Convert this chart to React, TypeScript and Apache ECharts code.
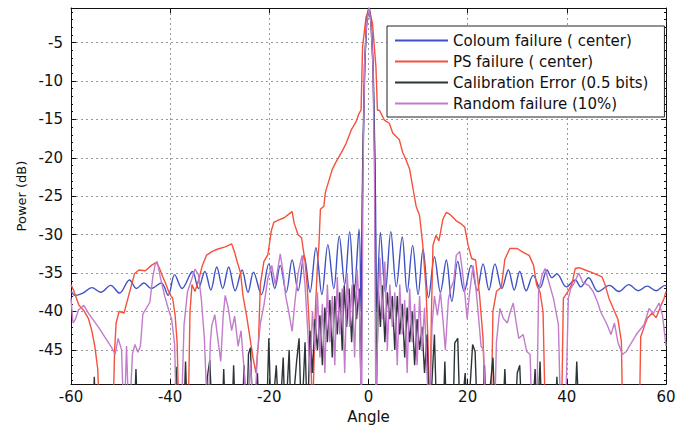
import React, { useEffect, useRef } from "react";
import * as echarts from "echarts";

// Angle (deg) / Power (dB) pairs
const colourFailure: [number, number][] = [
  [-60,-37.3],[-59.2,-37.9],[-57.6,-37.6],[-55.8,-36.9],[-54.0,-37.5],[-52.0,-36.6],[-50.2,-37.6],[-48.2,-35.9],
  [-46.8,-37.0],[-45.3,-36.3],[-43.8,-37.0],[-41.8,-36.3],[-40.4,-37.9],[-39.1,-35.2],[-37.6,-37.0],[-35.5,-34.8],
  [-34.3,-37.0],[-33.0,-34.8],[-31.8,-37.2],[-30.6,-34.2],[-29.4,-37.0],[-28.2,-34.2],[-26.9,-37.3],[-25.5,-34.6],
  [-24.3,-37.5],[-23.2,-34.9],[-21.6,-37.8],[-20.1,-33.8],[-18.9,-37.0],[-17.8,-34.0],[-16.6,-37.5],[-15.4,-33.3],
  [-14.2,-37.3],[-13.0,-32.7],[-11.8,-37.5],[-10.6,-31.7],[-9.4,-37.8],[-8.2,-31.3],[-7.0,-37.0],[-5.9,-30.2],
  [-4.8,-36.5],[-3.8,-29.6],[-2.9,-37.5],[-1.9,-29.3],[-1.5,-40],[-1.2,-24.5],[-0.8,-10],[-0.4,-3],[0.1,-0.5],
  [0.6,-3],[1.0,-10],[1.4,-25],[1.7,-40],[2.4,-29.7],[3.4,-37.5],[4.5,-29.6],[5.6,-36.8],[6.8,-30.3],[7.8,-37.5],
  [8.9,-31.4],[10.0,-37.8],[11.0,-31.9],[12.1,-38.2],[13.3,-32.9],[14.5,-37.5],[15.7,-33.3],[16.8,-38.7],
  [18.0,-33.5],[19.3,-37.4],[20.7,-34.0],[21.9,-37.3],[23.1,-33.8],[24.3,-37.2],[25.5,-33.8],[26.9,-37.0],
  [28.2,-34.6],[29.4,-37.2],[30.5,-34.8],[31.8,-37.3],[33.2,-35.3],[34.6,-36.9],[36.0,-34.6],[37.0,-35.6],
  [38.0,-35.1],[39.9,-36.8],[41.7,-35.9],[42.8,-36.8],[44.4,-35.6],[46.3,-37.4],[48.6,-36.6],[50.5,-37.4],
  [52.5,-36.5],[54.4,-37.3],[56.2,-36.7],[58.0,-37.3],[59.8,-36.6],[60,-36.7]
];

const psFailure: [number, number][] = [
  [-60,-36.5],[-59.5,-37.2],[-58.4,-39.2],[-57.5,-39.8],[-56.5,-40.9],[-55.8,-42.5],[-55.2,-44.5],[-54.6,-47.5],
  [-54.2,-55],[-51.6,-55],[-51.2,-45],[-50.9,-41.5],[-50.3,-40.0],[-49.3,-40.2],[-48.4,-38.0],[-47.9,-36.8],
  [-47.2,-35.1],[-46.3,-34.6],[-45.0,-34.7],[-43.8,-34.0],[-42.8,-33.6],[-42.2,-34.3],[-41.5,-35.5],[-41.0,-36.2],
  [-40.2,-37.6],[-39.5,-38.3],[-39.0,-40.5],[-38.6,-44],[-38.2,-55],[-36.4,-55],[-36.0,-40],[-35.6,-36.5],
  [-35.0,-37.4],[-34.3,-36.0],[-33.5,-34.0],[-32.7,-32.7],[-31.6,-32.2],[-30.5,-31.9],[-28.9,-31.6],[-27.6,-31.2],
  [-27.0,-32.3],[-26.5,-33.5],[-25.8,-35.0],[-25.3,-38.0],[-24.6,-40.5],[-24.0,-43.0],[-23.3,-46.0],[-22.7,-48.0],
  [-22.2,-44],[-21.8,-36.4],[-21.1,-33.5],[-20.3,-32.6],[-19.6,-29.5],[-19.1,-28.4],[-18.2,-28.1],[-17.0,-27.8],
  [-16.0,-27.3],[-15.4,-27.0],[-15.0,-28.5],[-14.2,-30.0],[-13.5,-30.4],[-12.8,-33.5],[-12.4,-36.4],[-12.0,-41.2],
  [-11.6,-46],[-11.3,-55],[-10.9,-44],[-10.7,-39.6],[-10.3,-34],[-10.0,-31.4],[-9.7,-26.7],[-9.0,-26.3],
  [-8.7,-24.5],[-8.0,-23.0],[-7.3,-21.5],[-6.6,-20.6],[-5.9,-19.8],[-5.2,-19.0],[-4.5,-18.1],[-3.5,-16.4],
  [-2.5,-15.3],[-1.9,-14.2],[-1.5,-13.8],[-1.2,-5.6],[-0.5,-1.7],[0.1,-0.6],[0.8,-2.5],[1.5,-8.2],[1.8,-13.8],
  [2.2,-13.8],[3.2,-15.1],[4.2,-15.5],[4.9,-16.8],[6.2,-17.6],[6.9,-19.3],[7.6,-20.3],[8.3,-21.5],[8.9,-23.7],
  [9.6,-26.3],[10.3,-27.5],[10.95,-31.4],[11.6,-37.0],[12.0,-44],[12.3,-55],[12.7,-40],[13.0,-31.4],[13.6,-30.1],
  [14.2,-30.8],[15.0,-28.0],[15.7,-27.1],[16.5,-27.4],[17.7,-28.2],[18.7,-28.6],[19.4,-29.0],[20.1,-31.4],
  [20.8,-33.1],[21.6,-33.3],[22.4,-37.9],[23.1,-43.5],[23.6,-55],[24.7,-55],[25.1,-40.0],[25.8,-37.4],
  [26.8,-36.8],[27.5,-33.2],[28.5,-31.8],[30.0,-31.8],[31.2,-32.3],[32.4,-32.7],[33.3,-34.0],[33.9,-36.5],
  [34.6,-37.5],[35.2,-40],[35.7,-55],[38.9,-55],[39.3,-38.3],[40.2,-37.4],[41.0,-36.5],[41.7,-34.4],[42.5,-34.3],
  [43.7,-34.6],[45.0,-34.9],[47.1,-35.5],[47.7,-36.5],[48.5,-38.3],[49.5,-39.8],[50.3,-41.0],[51.0,-43.9],
  [51.3,-55],[54.6,-55],[54.9,-43.3],[55.6,-42.0],[56.2,-40.9],[57.2,-40.2],[58.0,-40.8],[58.8,-39.5],
  [59.6,-38.3],[60,-37.4]
];

const calibrationError: [number, number][] = [
  [-60,-55],[-55.6,-55],[-55.3,-48.5],[-55.0,-55],[-47.3,-55],[-46.9,-47.5],[-46.5,-55],[-39.2,-55],[-38.8,-47.2],
  [-38.4,-55],[-37.3,-55],[-36.9,-46.5],[-36.5,-55],[-33,-55],[-32.5,-48.5],[-32.0,-46.3],[-31.5,-55],[-29.6,-55],
  [-29.2,-47.5],[-28.8,-55],[-27.6,-55],[-27.2,-47.0],[-26.8,-55],[-25.5,-55],[-25.1,-47],[-24.6,-55],[-24.2,-45.5],
  [-23.8,-44.7],[-23.3,-55],[-22.4,-48],[-22.0,-55],[-20.6,-55],[-20.1,-43.5],[-19.6,-55],[-18.6,-47],[-18.0,-55],
  [-17.2,-46],[-16.8,-55],[-16.0,-45],[-15.6,-55],[-14.5,-46.5],[-14.0,-43.5],[-13.5,-55],[-12.8,-44],[-12.3,-55],
  [-11.8,-42.5],[-11.3,-48],[-10.8,-41],[-10.3,-45],[-9.8,-40.5],[-9.3,-47],[-8.8,-39.5],[-8.3,-44],[-7.8,-38.5],
  [-7.3,-46],[-6.8,-38],[-6.3,-43],[-5.8,-37.5],[-5.3,-45],[-4.9,-36.6],[-4.4,-42],[-3.9,-37],[-3.4,-44],
  [-2.9,-36.5],[-2.4,-41],[-1.9,-37],[-1.5,-50],[-1.2,-22],[-0.8,-8],[-0.4,-2.4],[0.1,-0.5],[0.5,-2.4],[0.9,-8],
  [1.3,-22],[1.6,-50],[2.0,-37.5],[2.4,-42],[2.8,-36.6],[3.3,-44],[3.8,-37.5],[4.3,-41],[4.8,-38],[5.3,-45],
  [5.8,-38],[6.3,-43],[6.8,-39],[7.3,-46],[7.8,-39.5],[8.3,-44],[8.8,-40],[9.3,-47],[9.8,-41],[10.3,-45],
  [10.8,-42],[11.3,-48],[11.8,-43],[12.3,-55],[13.3,-43.0],[13.8,-55],[15,-55],[15.4,-46.5],[15.8,-55],[17.0,-55],
  [17.4,-44.1],[18.0,-43.5],[18.5,-55],[19.5,-48],[20,-55],[21.0,-44.3],[21.5,-45.2],[22.0,-55],[23.0,-55],
  [23.4,-47],[23.8,-55],[25.1,-46],[25.6,-55],[27.0,-55],[27.5,-47.5],[28.0,-55],[29.5,-55],[30.0,-48],[30.5,-47],
  [31.0,-55],[33.0,-55],[33.6,-47.5],[34.0,-55],[34.6,-46.5],[35.0,-55],[37.5,-55],[38.0,-48.5],[38.4,-55],
  [41.5,-55],[42.0,-46.5],[42.5,-55],[60,-55]
];

const randomFailure: [number, number][] = [
  [-60,-38.3],[-59.6,-41.5],[-59.1,-41.0],[-58.5,-39.8],[-57.4,-39.2],[-56.4,-40.3],[-55.4,-41.2],[-54.3,-42.2],
  [-53.0,-43.5],[-51.8,-44.7],[-51.1,-45.6],[-50.5,-43.5],[-49.8,-45.0],[-49.3,-55],[-48.8,-44.5],[-48.3,-55],
  [-47.6,-45.5],[-47.1,-44.3],[-46.5,-45.3],[-46.0,-44.5],[-45.5,-40.3],[-44.8,-39.6],[-44.1,-38.8],[-43.5,-35.5],
  [-43.0,-33.8],[-42.6,-33.5],[-42.0,-35.5],[-41.1,-38.0],[-40.3,-39.8],[-39.7,-41.0],[-39.1,-44.3],[-38.7,-55],
  [-37.8,-55],[-37.2,-41.7],[-36.5,-37.4],[-35.8,-36.1],[-35.0,-34.5],[-34.3,-35.2],[-33.7,-38.5],[-33.1,-43.5],
  [-32.4,-55],[-31.9,-44],[-31.6,-41.8],[-31.0,-40.4],[-30.4,-43.5],[-29.8,-46.5],[-29.3,-40.5],[-28.9,-37.9],
  [-28.3,-39.5],[-27.6,-42.5],[-27.0,-40.6],[-26.3,-44.5],[-25.7,-42.5],[-25.1,-47.5],[-24.5,-55],[-23.8,-46.5],
  [-23.1,-55],[-22.4,-45.5],[-21.8,-41.5],[-21.1,-39.2],[-20.3,-35.7],[-19.5,-34.0],[-18.8,-36.5],[-17.8,-32.5],
  [-17.2,-35.0],[-16.7,-38.0],[-16.1,-40.0],[-15.4,-42.6],[-14.8,-38.5],[-14.2,-35.0],[-13.4,-32.7],[-12.8,-36.5],
  [-12.3,-42],[-11.8,-48],[-11.3,-40],[-10.8,-45],[-10.3,-37.5],[-9.8,-46],[-9.3,-39],[-8.8,-48],[-8.3,-36.5],
  [-7.8,-44],[-7.3,-38],[-6.8,-47],[-6.3,-35.5],[-5.8,-43],[-5.3,-37],[-4.8,-48],[-4.3,-35],[-3.8,-42],
  [-3.3,-36.5],[-2.8,-46],[-2.3,-34.5],[-1.8,-40],[-1.4,-55],[-1.1,-22],[-0.8,-8],[-0.4,-2.5],[0.1,-0.5],
  [0.5,-2.5],[0.9,-8],[1.2,-22],[1.5,-55],[1.9,-40],[2.3,-33],[2.8,-41],[3.3,-33.5],[3.8,-45],[4.3,-36.5],
  [4.8,-42],[5.3,-37.5],[5.8,-47],[6.3,-36.5],[6.8,-43],[7.3,-38.5],[7.8,-48],[8.3,-37],[8.8,-44],[9.3,-39],
  [9.8,-47],[10.3,-38],[10.8,-45],[11.3,-39.5],[11.8,-48],[12.3,-55],[12.8,-42],[13.3,-38.0],[13.9,-40.5],
  [14.5,-37.5],[15.0,-41],[15.5,-45],[16.1,-38.5],[16.6,-37.0],[17.2,-36.0],[17.7,-32.7],[18.4,-32.2],[18.9,-34.5],
  [19.4,-37.5],[19.9,-41],[20.4,-37.5],[21.1,-34.0],[21.6,-36.5],[22.1,-40.0],[22.7,-44.5],[23.2,-45],[23.7,-55],
  [25.4,-55],[25.8,-44],[26.5,-39.6],[27.2,-40.9],[28.0,-41.5],[28.6,-40.0],[29.2,-38.9],[29.8,-41.5],[30.3,-43.5],
  [31.2,-43.0],[31.9,-45.2],[32.6,-45.6],[33.0,-55],[33.9,-55],[34.3,-37.4],[35.0,-35.3],[35.6,-34.4],[36.3,-36.0],
  [37.3,-38.3],[38.3,-41.7],[38.8,-55],[39.7,-55],[40.3,-38.3],[40.8,-37.0],[41.4,-36.4],[42.4,-35.0],[43.2,-36.2],
  [44.4,-36.6],[45.3,-37.4],[46.2,-38.8],[46.8,-40.0],[48.1,-41.7],[48.9,-43.0],[49.6,-41.5],[50.3,-44.0],
  [51.2,-45.6],[52.0,-45.2],[52.8,-44.3],[54.0,-43.0],[55.6,-41.7],[56.6,-39.6],[57.4,-40.3],[58.6,-38.9],
  [59.3,-40.5],[60.0,-44.5]
];

const seriesNames = [
  "Coloum failure ( center)",
  "PS failure ( center)",
  "Calibration Error (0.5 bits)",
  "Random failure (10%)"
];
const seriesColors = ["#3f51c4", "#f4523c", "#2b3538", "#c27ccb"];
const yTicks = [-45, -40, -35, -30, -25, -20, -15, -10, -5];

const FONT = "DejaVu Sans";

export default function App() {
  const ref = useRef<HTMLDivElement>(null);
  useEffect(() => {
    if (!ref.current) return;
    const chart = echarts.init(ref.current, null, { renderer: "svg" });
    const yMin = -49.45;
    const yMax = -0.5;
    const gridLine = { show: true, lineStyle: { color: "#9a9a9a", type: [2, 3] as any, width: 1 } };
    const datasets = [colourFailure, psFailure, calibrationError, randomFailure];
    chart.setOption({
      animation: false,
      backgroundColor: "#ffffff",
      grid: { left: 71, right: 21, top: 8, bottom: 44, containLabel: false },
      legend: {
        orient: "vertical",
        left: 387,
        top: 26,
        padding: [7, 16, 6, 8],
        icon: "rect",
        itemWidth: 53,
        itemHeight: 2,
        itemGap: 6,
        backgroundColor: "#ffffff",
        borderColor: "#222",
        borderWidth: 1,
        borderRadius: 0,
        textStyle: { fontFamily: FONT, fontSize: 15, color: "#111", lineHeight: 15 },
        data: seriesNames
      },
      xAxis: [
        {
          type: "value", min: -60, max: 60, interval: 20,
          axisLine: { onZero: false, lineStyle: { color: "#111", width: 1 } },
          axisTick: { inside: true, length: 5, lineStyle: { color: "#111" } },
          axisLabel: { margin: 5, fontFamily: FONT, fontSize: 15, color: "#111" },
          splitLine: gridLine,
          name: "Angle", nameLocation: "middle", nameGap: 21,
          nameTextStyle: { fontFamily: FONT, fontSize: 15, color: "#111" }
        },
        {
          type: "value", position: "top", min: -60, max: 60, interval: 20,
          axisLine: { onZero: false, lineStyle: { color: "#111", width: 1 } },
          axisTick: { inside: true, length: 5, lineStyle: { color: "#111" } },
          axisLabel: { show: false }, splitLine: { show: false }
        }
      ],
      yAxis: [
        {
          type: "value", min: yMin, max: yMax, splitNumber: 10,
          axisLine: { show: true, onZero: false, lineStyle: { color: "#111", width: 1 } },
          axisTick: { show: true, inside: true, length: 5, customValues: yTicks, lineStyle: { color: "#111" } },
          minorTick: { show: true, splitNumber: 5, length: 2, lineStyle: { color: "#111" } },
          axisLabel: { customValues: yTicks, margin: 8, fontFamily: FONT, fontSize: 15, color: "#111" },
          splitLine: gridLine,
          name: "Power (dB)", nameLocation: "middle", nameGap: 42, nameRotate: 90,
          nameTextStyle: { fontFamily: FONT, fontSize: 13, color: "#111" }
        },
        {
          type: "value", position: "right", min: yMin, max: yMax, splitNumber: 10,
          axisLine: { show: true, onZero: false, lineStyle: { color: "#111", width: 1 } },
          axisTick: { show: true, inside: true, length: 5, customValues: yTicks, lineStyle: { color: "#111" } },
          minorTick: { show: true, splitNumber: 5, length: 2, lineStyle: { color: "#111" } },
          axisLabel: { show: false }, splitLine: { show: false }
        }
      ],
      series: datasets.map((d, i) => ({
        name: seriesNames[i],
        type: "line",
        xAxisIndex: 0,
        yAxisIndex: 0,
        data: d,
        symbol: "none",
        smooth: i === 0 ? 0.35 : false,
        clip: true,
        lineStyle: { color: seriesColors[i], width: 1.4 },
        itemStyle: { color: seriesColors[i] }
      }))
    });
    return () => chart.dispose();
  }, []);
  return (
    <div
      ref={ref}
      style={{ position: "absolute", left: 0, top: 0, width: 687, height: 429, background: "#fff" }}
    />
  );
}
